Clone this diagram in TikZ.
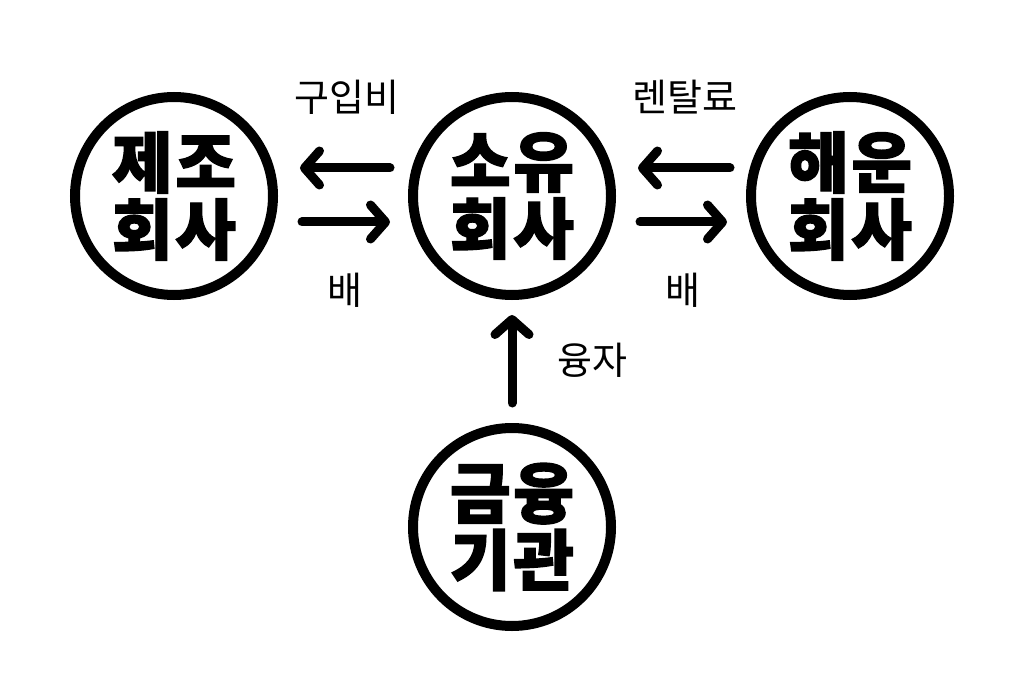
\documentclass[tikz,border=0pt]{standalone}
\usepackage{fontspec}
\newfontfamily\krfont{Noto Sans CJK KR}
\newfontfamily\krheavy{Noto Sans CJK KR}[BoldFeatures={FakeBold=2, LetterSpace=4}]
\usetikzlibrary{arrows.meta, positioning}

\begin{document}
\begin{tikzpicture}[x=1pt, y=1pt,
  firm/.style={circle, draw, line width=10pt, minimum size=198pt, inner sep=0pt,
    align=center, font=\krheavy\bfseries\fontsize{66}{67}\selectfont},
  flow/.style={line width=9pt, line cap=round,
    -{Straight Barb[length=15pt, width=34pt, round]}},
  tag/.style={font=\krfont\fontsize{38}{38}\selectfont}]

  \useasboundingbox (0,0) rectangle (1024,-700);

  \node[firm] (own) at (512,-196) {소유\\회사};
  \node[firm, left of=own, node distance=338pt] (maker) {제조\\회사};
  \node[firm, right of=own, node distance=338pt] (ship) {해운\\회사};
  \node[firm, below of=own, node distance=331pt] (bank) {금융\\기관};

  % payments go left, ships go right
  \draw[flow, shorten <=18pt, shorten >=22pt] ([yshift=28pt]own.west) -- ([yshift=28pt]maker.east);
  \draw[flow, shorten <=24pt, shorten >=18pt] ([yshift=-26pt]maker.east) -- ([yshift=-26pt]own.west);
  \draw[flow, shorten <=16pt, shorten >=22pt] ([yshift=28pt]ship.west) -- ([yshift=28pt]own.east);
  \draw[flow, shorten <=24pt, shorten >=19pt] ([yshift=-26pt]own.east) -- ([yshift=-26pt]ship.west);
  \draw[flow, shorten <=20pt, shorten >=15pt] (bank.north) -- (own.south);

  \node[tag] (buy) at (347,-97) {구입비};
  \node[tag] (boat1) at (345,-290) {배};
  \node[tag] (rent) at (685,-97) {렌탈료};
  \node[tag] (boat2) at (683,-290) {배};
  \node[tag] (loan) at (592,-360) {융자};
\end{tikzpicture}
\end{document}
